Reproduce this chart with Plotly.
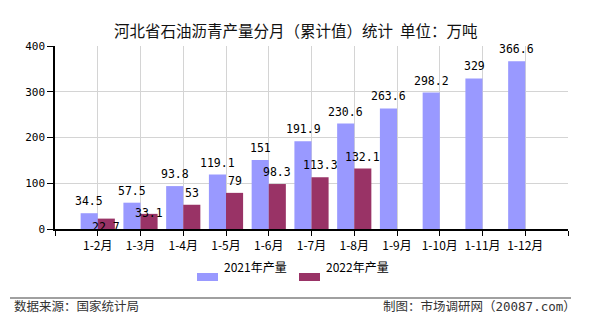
import plotly.graph_objects as go

# Monthly cumulative petroleum asphalt output in Hebei (10k tonnes)
categories = ["1-2月", "1-3月", "1-4月", "1-5月", "1-6月", "1-7月",
              "1-8月", "1-9月", "1-10月", "1-11月", "1-12月"]
output_2021 = [34.5, 57.5, 93.8, 119.1, 151, 191.9, 230.6, 263.6, 298.2, 329, 366.6]
output_2022 = [22.7, 33.1, 53, 79, 98.3, 113.3, 132.1]
y_ticks = [0, 100, 200, 300, 400]

series_names = ["2021年产量", "2022年产量"]
colors = ["#9999FF", "#993366"]

CJK = "Noto Sans CJK SC"
MONO = "DejaVu Sans Mono"

W, H = 590, 330
ML, MR, MT, MB = 55, 22, 46, 101

x_2021 = list(range(len(output_2021)))
x_2022 = list(range(len(output_2022)))

fig = go.Figure()
fig.add_trace(go.Bar(x=x_2021, y=output_2021, name=series_names[0],
                     marker=dict(color=colors[0], line_width=0),
                     showlegend=False, hoverinfo="x+y"))
fig.add_trace(go.Bar(x=x_2022, y=output_2022, name=series_names[1],
                     marker=dict(color=colors[1], line_width=0),
                     showlegend=False, hoverinfo="x+y"))

# value labels above each bar; a few 2022 labels are nudged to avoid crowding
half_bar = 8.5
label_nudge_2022 = {0: -20, 1: -11}
annotations = []
for xi, v in zip(x_2021, output_2021):
    annotations.append(dict(x=xi, y=v, xref="x", yref="y", text=f"{v:g}",
                            showarrow=False, xshift=-half_bar, yshift=12,
                            font=dict(family=MONO, size=11.5, color="#000")))
for xi, v in zip(x_2022, output_2022):
    annotations.append(dict(x=xi, y=v, xref="x", yref="y", text=f"{v:g}",
                            showarrow=False, xshift=half_bar,
                            yshift=12 + label_nudge_2022.get(xi, 0),
                            font=dict(family=MONO, size=11.5, color="#000")))


def px_x(x):
    """Page pixel x -> paper fraction."""
    return (x - ML) / (W - ML - MR)


def px_y(y_from_top):
    """Page pixel y (from top) -> paper fraction."""
    return ((H - y_from_top) - MB) / (H - MT - MB)


# title
annotations.append(dict(x=px_x(295), y=px_y(17), xref="paper", yref="paper",
                        text="河北省石油沥青产量分月（累计值）统计  单位：万吨",
                        showarrow=False, font=dict(family=CJK, size=15.5, color="#111")))

# legend drawn by hand
shapes = []
legend_items = [(197, series_names[0], colors[0]), (299, series_names[1], colors[1])]
for x0, name, col in legend_items:
    shapes.append(dict(type="rect", xref="paper", yref="paper",
                       x0=px_x(x0), x1=px_x(x0 + 21), y0=px_y(281), y1=px_y(273),
                       fillcolor=col, line_width=0))
    annotations.append(dict(x=px_x(x0 + 25), y=px_y(277), xref="paper", yref="paper",
                            text=name, xanchor="left", showarrow=False,
                            font=dict(family=CJK, size=12, color="#000")))

# footer
shapes.append(dict(type="line", xref="paper", yref="paper",
                   x0=px_x(10), x1=px_x(571), y0=px_y(298), y1=px_y(298),
                   line=dict(color="#808080", width=1.5)))
annotations.append(dict(x=px_x(12), y=px_y(317), xref="paper", yref="paper",
                        text="数据来源：国家统计局", xanchor="left", showarrow=False,
                        font=dict(family=CJK, size=12.5, color="#333")))
annotations.append(dict(x=px_x(578), y=px_y(317), xref="paper", yref="paper",
                        text="制图：市场调研网（<span style='font-family:DejaVu Sans Mono'>20087.com</span>）",
                        xanchor="right", showarrow=False,
                        font=dict(family=CJK, size=12.5, color="#333")))

fig.update_layout(
    width=W, height=H,
    margin=dict(l=ML, r=MR, t=MT, b=MB, autoexpand=False),
    paper_bgcolor="white", plot_bgcolor="white",
    barmode="group", bargap=0.2, bargroupgap=0,
    annotations=annotations, shapes=shapes,
    showlegend=False,
)

n = len(categories)
fig.update_xaxes(
    range=[-1, n], tickmode="array",
    tickvals=list(range(-1, n + 1)),
    ticktext=[""] + categories + [""],
    showgrid=True, gridcolor="#d4d4d4", gridwidth=1,
    showline=True, linecolor="#000", linewidth=1.5,
    ticks="outside", ticklen=5, tickcolor="#000",
    tickfont=dict(family=CJK, size=12, color="#000"),
    zeroline=False, fixedrange=True,
)
fig.update_yaxes(
    range=[0, 400], tickvals=y_ticks,
    showgrid=True, gridcolor="#d4d4d4", gridwidth=1,
    showline=True, linecolor="#000", linewidth=1.5,
    ticks="outside", ticklen=6, tickcolor="#000",
    tickfont=dict(family=MONO, size=11, color="#000"),
    zeroline=False, fixedrange=True,
)

fig.write_html("out.html", config={"displayModeBar": False})
